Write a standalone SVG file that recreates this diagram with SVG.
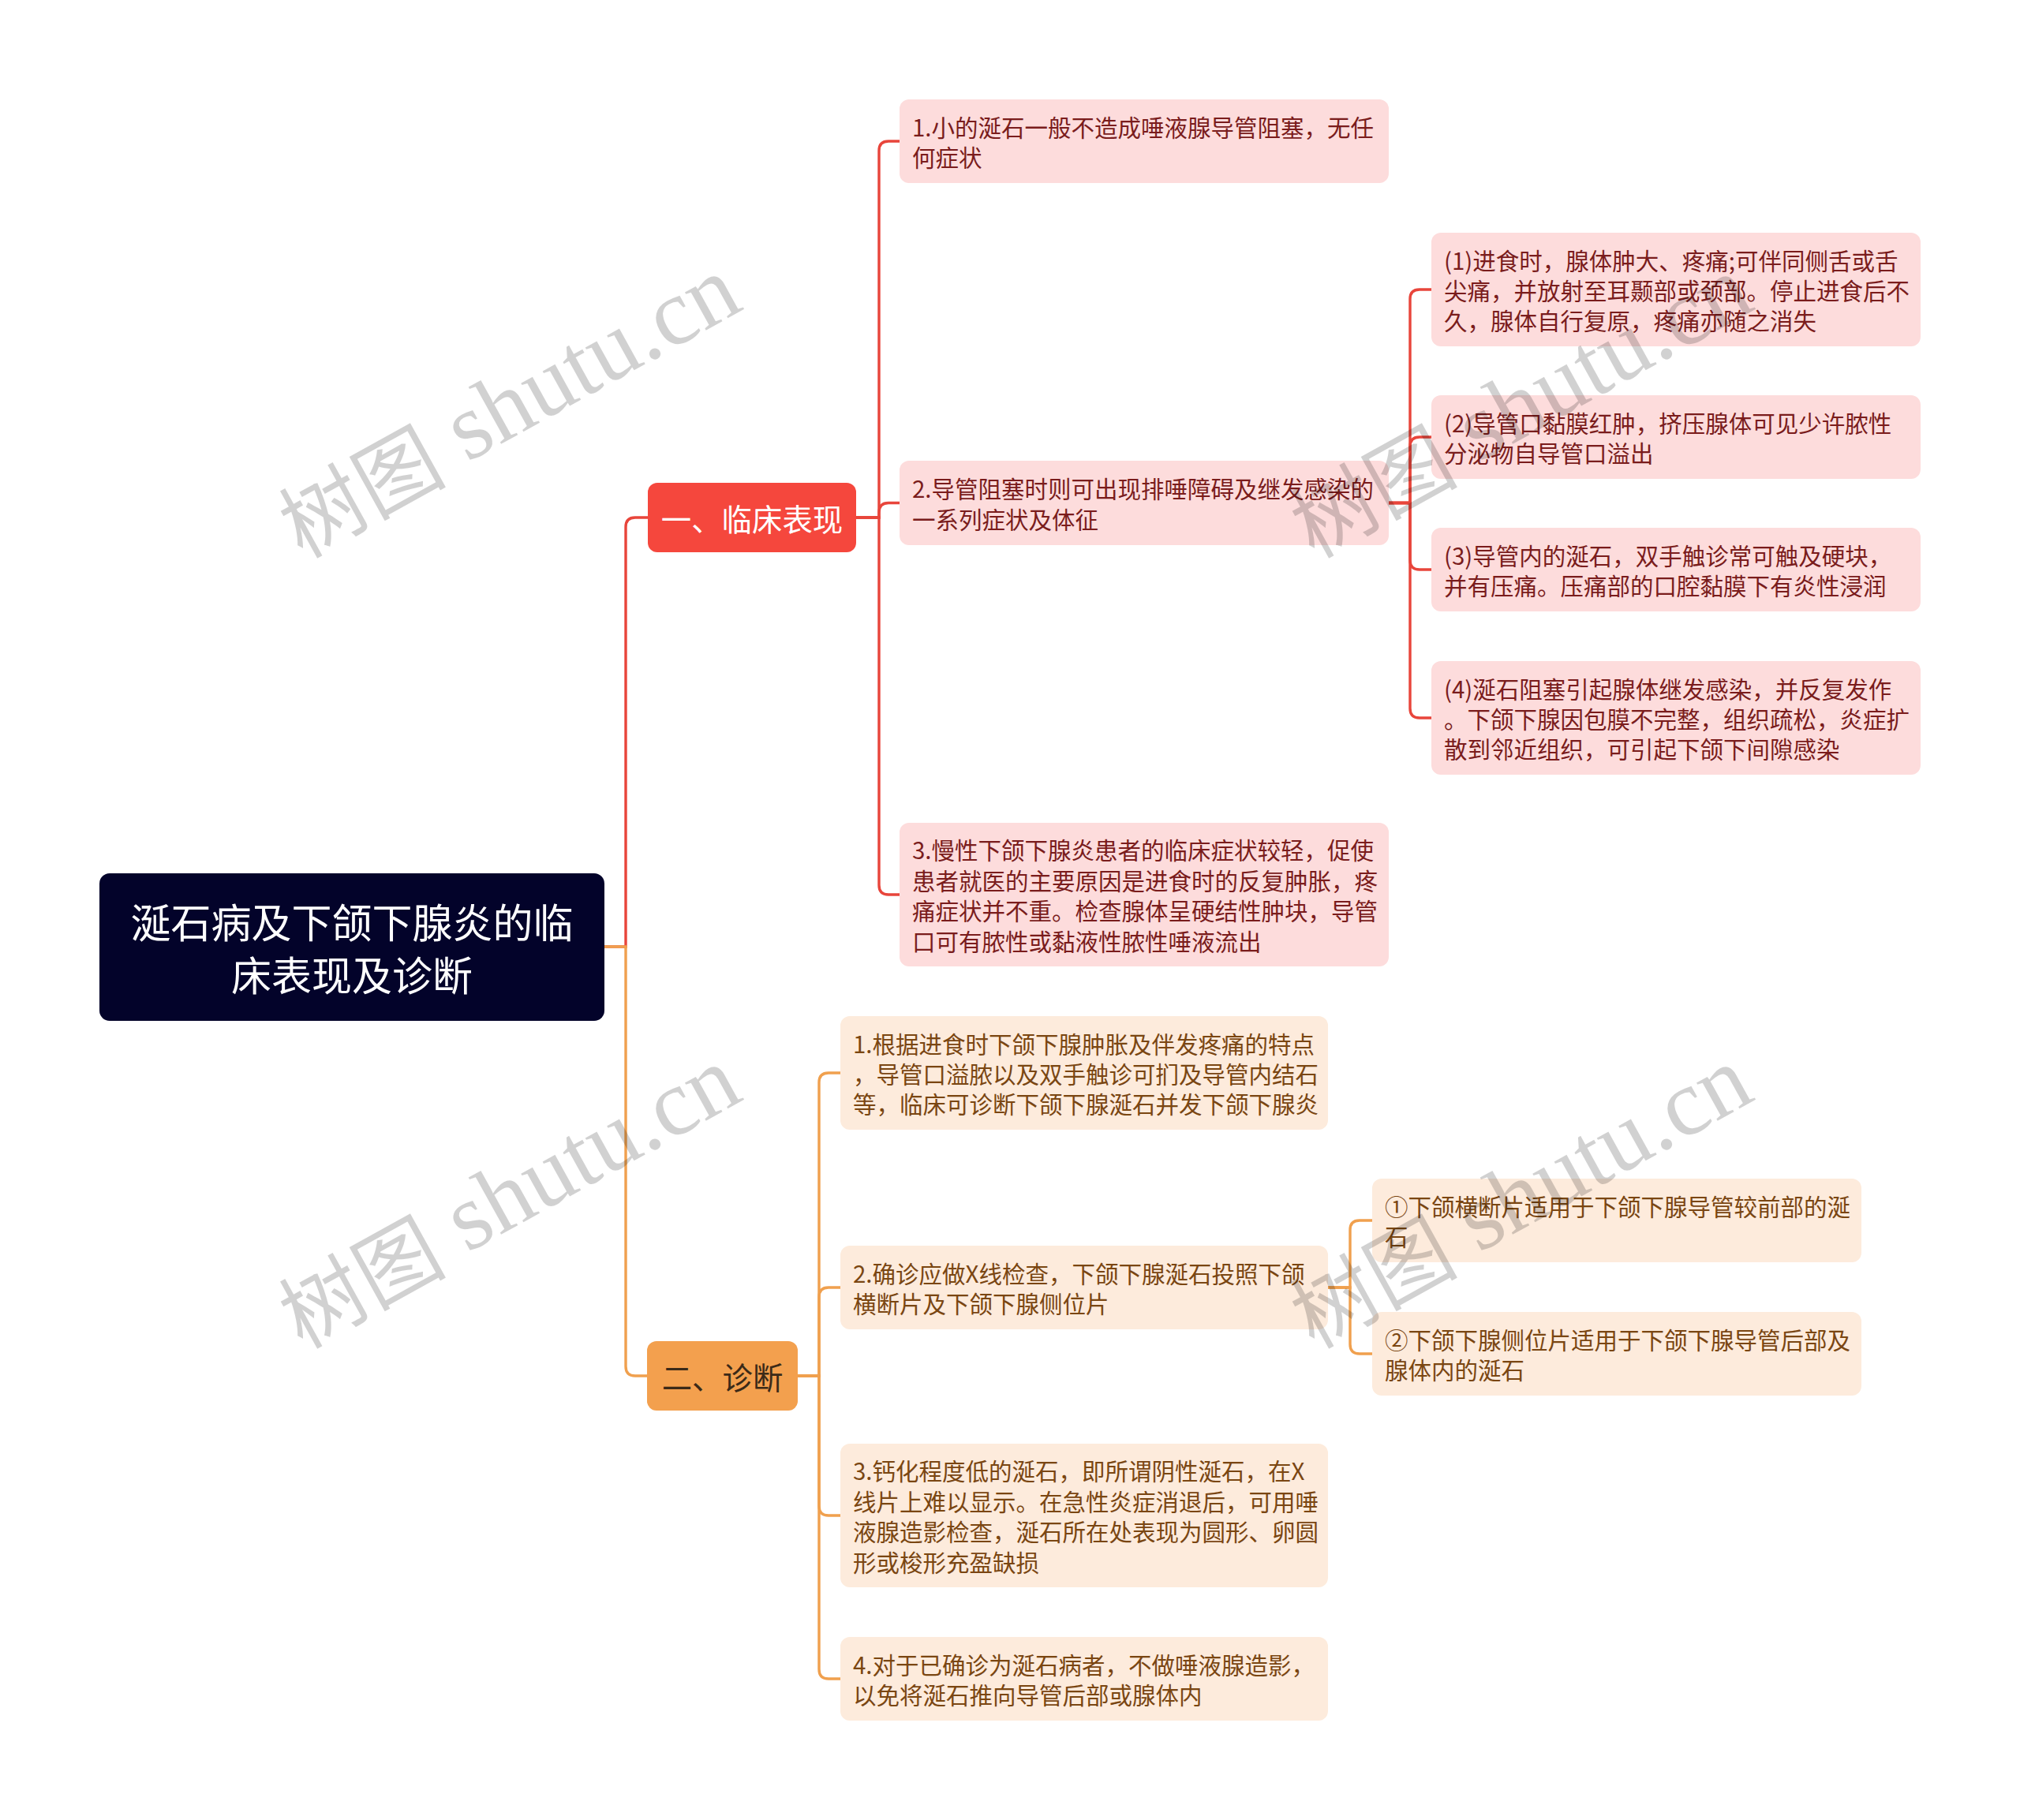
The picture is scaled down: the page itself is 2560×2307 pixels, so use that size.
<svg xmlns="http://www.w3.org/2000/svg" width="2560" height="2307" viewBox="0 0 2560 2307">
<style>
text{font-family:"Noto Sans CJK SC","Liberation Sans",sans-serif;}
.root{fill:#03032a;}
.rootT{fill:#ffffff;font-size:51px;}
.l1r{fill:#f5473d;}
.l1o{fill:#f3a04e;}
.l1rT{fill:#ffffff;font-size:38.4px;}
.l1oT{fill:#3b2a18;font-size:38.4px;}
.bxr{fill:#fddcdc;}
.bxo{fill:#fdebdc;}
.tr{fill:#7a1c1c;font-size:29.5px;}
.to{fill:#7a4612;font-size:29.5px;}
.cr{fill:none;stroke:#e8453b;stroke-width:3.4;}
.co{fill:none;stroke:#f0a04e;stroke-width:3.4;}
.wm{font-family:"Liberation Serif","Noto Sans CJK SC",serif;font-size:120px;fill:#000;fill-opacity:0.18;}
.wmc{font-family:"Noto Sans CJK SC",serif;font-size:106px;}
</style>
<rect width="2560" height="2307" fill="#ffffff"/>
<g id="connectors">
  <path class="cr" d="M766,1200 H793 V668 Q793,656 805,656 H821"/>
  <path class="co" d="M766,1200 H793 V1732 Q793,1744 805,1744 H820"/>
  <path class="cr" d="M1085,656 H1114 V191 Q1114,179 1126,179 H1140"/>
  <path class="cr" d="M1085,656 H1114 V649.5 Q1114,637.5 1126,637.5 H1140"/>
  <path class="cr" d="M1085,656 H1114 V1122 Q1114,1134 1126,1134 H1140"/>
  <path class="cr" d="M1760,637.5 H1787 V379 Q1787,367 1799,367 H1814"/>
  <path class="cr" d="M1760,637.5 H1787 V566 Q1787,554 1799,554 H1814"/>
  <path class="cr" d="M1760,637.5 H1787 V710 Q1787,722 1799,722 H1814"/>
  <path class="cr" d="M1760,637.5 H1787 V898 Q1787,910 1799,910 H1814"/>
  <path class="co" d="M1011,1744 H1038 V1372 Q1038,1360 1050,1360 H1065"/>
  <path class="co" d="M1011,1744 H1038 V1644 Q1038,1632 1050,1632 H1065"/>
  <path class="co" d="M1011,1744 H1038 V1909 Q1038,1921 1050,1921 H1065"/>
  <path class="co" d="M1011,1744 H1038 V2116 Q1038,2128 1050,2128 H1065"/>
  <path class="co" d="M1683,1632 H1711 V1559 Q1711,1547 1723,1547 H1739"/>
  <path class="co" d="M1683,1632 H1711 V1704 Q1711,1716 1723,1716 H1739"/>
</g>
<g id="root">
  <rect class="root" x="126" y="1107" width="640" height="187" rx="13"/>
  <text class="rootT" x="446" text-anchor="middle" dominant-baseline="central"><tspan x="446" y="1166.5">涎石病及下颌下腺炎的临</tspan><tspan x="446" y="1233.5">床表现及诊断</tspan></text>
</g>
<g id="n1">
  <rect class="l1r" x="821" y="612" width="264" height="88" rx="12"/>
  <text class="l1rT" x="953" y="656" text-anchor="middle" dominant-baseline="central">一、临床表现</text>
</g>
<g id="n2">
  <rect class="l1o" x="820" y="1700" width="191" height="88" rx="12"/>
  <text class="l1oT" x="915.5" y="1744" text-anchor="middle" dominant-baseline="central">二、诊断</text>
</g>
<g id="r1">
  <rect class="bxr" x="1140" y="126" width="620" height="106" rx="12"/>
  <text class="tr" dominant-baseline="central"><tspan x="1156" y="159.8">1.小的涎石一般不造成唾液腺导管阻塞，无任</tspan><tspan x="1156" y="198.2">何症状</tspan></text>
</g>
<g id="r2">
  <rect class="bxr" x="1140" y="584" width="620" height="107" rx="12"/>
  <text class="tr" dominant-baseline="central"><tspan x="1156" y="618.3">2.导管阻塞时则可出现排唾障碍及继发感染的</tspan><tspan x="1156" y="656.7">一系列症状及体征</tspan></text>
</g>
<g id="r3">
  <rect class="bxr" x="1140" y="1043" width="620" height="182" rx="12"/>
  <text class="tr" dominant-baseline="central"><tspan x="1156" y="1076.4">3.慢性下颌下腺炎患者的临床症状较轻，促使</tspan><tspan x="1156" y="1114.8">患者就医的主要原因是进食时的反复肿胀，疼</tspan><tspan x="1156" y="1153.2">痛症状并不重。检查腺体呈硬结性肿块，导管</tspan><tspan x="1156" y="1191.6">口可有脓性或黏液性脓性唾液流出</tspan></text>
</g>
<g id="r2a">
  <rect class="bxr" x="1814" y="295" width="620" height="144" rx="12"/>
  <text class="tr" dominant-baseline="central"><tspan x="1830" y="328.6">(1)进食时，腺体肿大、疼痛;可伴同侧舌或舌</tspan><tspan x="1830" y="367">尖痛，并放射至耳颞部或颈部。停止进食后不</tspan><tspan x="1830" y="405.4">久，腺体自行复原，疼痛亦随之消失</tspan></text>
</g>
<g id="r2b">
  <rect class="bxr" x="1814" y="501" width="620" height="106" rx="12"/>
  <text class="tr" dominant-baseline="central"><tspan x="1830" y="534.8">(2)导管口黏膜红肿，挤压腺体可见少许脓性</tspan><tspan x="1830" y="573.2">分泌物自导管口溢出</tspan></text>
</g>
<g id="r2c">
  <rect class="bxr" x="1814" y="669" width="620" height="106" rx="12"/>
  <text class="tr" dominant-baseline="central"><tspan x="1830" y="702.8">(3)导管内的涎石，双手触诊常可触及硬块，</tspan><tspan x="1830" y="741.2">并有压痛。压痛部的口腔黏膜下有炎性浸润</tspan></text>
</g>
<g id="r2d">
  <rect class="bxr" x="1814" y="838" width="620" height="144" rx="12"/>
  <text class="tr" dominant-baseline="central"><tspan x="1830" y="871.6">(4)涎石阻塞引起腺体继发感染，并反复发作</tspan><tspan x="1830" y="910">。下颌下腺因包膜不完整，组织疏松，炎症扩</tspan><tspan x="1830" y="948.4">散到邻近组织，可引起下颌下间隙感染</tspan></text>
</g>
<g id="o1">
  <rect class="bxo" x="1065" y="1288" width="618" height="144" rx="12"/>
  <text class="to" dominant-baseline="central"><tspan x="1081" y="1321.6">1.根据进食时下颌下腺肿胀及伴发疼痛的特点</tspan><tspan x="1081" y="1360">，导管口溢脓以及双手触诊可扪及导管内结石</tspan><tspan x="1081" y="1398.4">等，临床可诊断下颌下腺涎石并发下颌下腺炎</tspan></text>
</g>
<g id="o2">
  <rect class="bxo" x="1065" y="1579" width="618" height="106" rx="12"/>
  <text class="to" dominant-baseline="central"><tspan x="1081" y="1612.8">2.确诊应做X线检查，下颌下腺涎石投照下颌</tspan><tspan x="1081" y="1651.2">横断片及下颌下腺侧位片</tspan></text>
</g>
<g id="o3">
  <rect class="bxo" x="1065" y="1830" width="618" height="182" rx="12"/>
  <text class="to" dominant-baseline="central"><tspan x="1081" y="1863.4">3.钙化程度低的涎石，即所谓阴性涎石，在X</tspan><tspan x="1081" y="1901.8">线片上难以显示。在急性炎症消退后，可用唾</tspan><tspan x="1081" y="1940.2">液腺造影检查，涎石所在处表现为圆形、卵圆</tspan><tspan x="1081" y="1978.6">形或梭形充盈缺损</tspan></text>
</g>
<g id="o4">
  <rect class="bxo" x="1065" y="2075" width="618" height="106" rx="12"/>
  <text class="to" dominant-baseline="central"><tspan x="1081" y="2108.8">4.对于已确诊为涎石病者，不做唾液腺造影，</tspan><tspan x="1081" y="2147.2">以免将涎石推向导管后部或腺体内</tspan></text>
</g>
<g id="o2a">
  <rect class="bxo" x="1739" y="1494" width="620" height="106" rx="12"/>
  <text class="to" dominant-baseline="central"><tspan x="1755" y="1527.8">①下颌横断片适用于下颌下腺导管较前部的涎</tspan><tspan x="1755" y="1566.2">石</tspan></text>
</g>
<g id="o2b">
  <rect class="bxo" x="1739" y="1663" width="620" height="106" rx="12"/>
  <text class="to" dominant-baseline="central"><tspan x="1755" y="1696.8">②下颌下腺侧位片适用于下颌下腺导管后部及</tspan><tspan x="1755" y="1735.2">腺体内的涎石</tspan></text>
</g>
<g id="watermarks">
  <text class="wm" x="643" y="512" text-anchor="middle" dominant-baseline="central" transform="rotate(-29 643 512)"><tspan class="wmc">树图</tspan> shutu.cn</text>
  <text class="wm" x="643" y="1514" text-anchor="middle" dominant-baseline="central" transform="rotate(-29 643 1514)"><tspan class="wmc">树图</tspan> shutu.cn</text>
  <text class="wm" x="1925" y="512" text-anchor="middle" dominant-baseline="central" transform="rotate(-29 1925 512)"><tspan class="wmc">树图</tspan> shutu.cn</text>
  <text class="wm" x="1925" y="1514" text-anchor="middle" dominant-baseline="central" transform="rotate(-29 1925 1514)"><tspan class="wmc">树图</tspan> shutu.cn</text>
</g>
</svg>
